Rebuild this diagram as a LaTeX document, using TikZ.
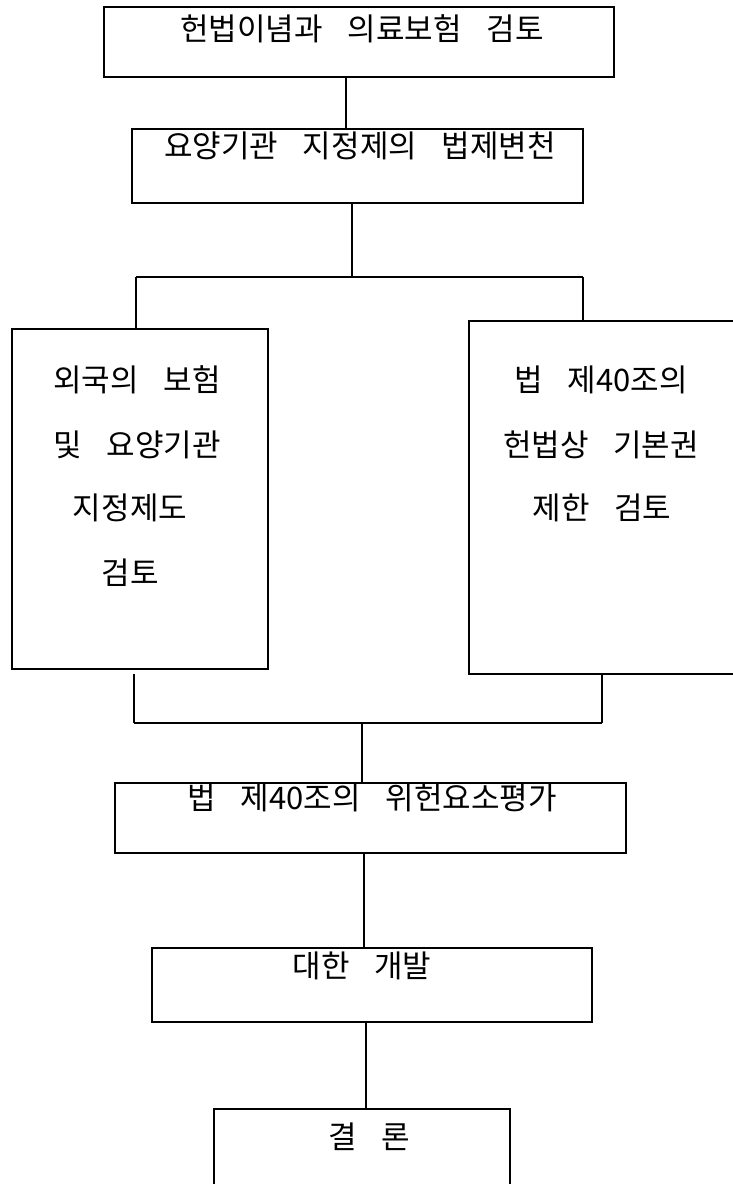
\documentclass[tikz,border=0pt]{standalone}
\usepackage{fontspec}
\setmainfont{Noto Sans CJK KR}
\newcommand\gp{\hspace{0.8em}}
\begin{document}
\begin{tikzpicture}[x=1pt,y=-1pt,
  box/.style={draw,line width=1.5pt,rectangle,inner sep=0pt},
  lbl/.style={inner sep=0pt,font=\fontsize{31pt}{37pt}\selectfont},
  conn/.style={line width=1.5pt}]
\useasboundingbox (0,0) rectangle (733,1184);
% boxes
\node[box,minimum width=510pt,minimum height=70pt] (b1) at (359,42) {};
\node[box,minimum width=451pt,minimum height=74pt] (b2) at (357.5,166) {};
\node[box,minimum width=256pt,minimum height=340pt] (L) at (140,499) {};
\node[box,minimum width=271pt,minimum height=353pt] (R) at (604.5,497.5) {};
\node[box,minimum width=511pt,minimum height=70pt] (b4) at (370.5,818) {};
\node[box,minimum width=440pt,minimum height=74pt] (b5) at (372,985) {};
\node[box,minimum width=296pt,minimum height=90pt] (b6) at (362,1154) {};
% texts
\node[lbl] (t1) at (362,29) {헌법이념과\gp 의료보험\gp 검토};
\node[lbl] (t2) at (360,146) {요양기관\gp 지정제의\gp 법제변천};
\node[lbl] (tl1) at (137,380) {외국의\gp 보험};
\node[lbl] (tl2) at (137,445) {및\gp 요양기관};
\node[lbl] (tl3) at (130,508) {지정제도};
\node[lbl] (tl4) at (130,573) {검토};
\node[lbl] (tr1) at (601,380) {법\gp 제40조의};
\node[lbl] (tr2) at (601,445) {헌법상\gp 기본권};
\node[lbl] (tr3) at (602,508) {제한\gp 검토};
\node[lbl] (t4) at (372,798) {법\gp 제40조의\gp 위헌요소평가};
\node[lbl] (t5) at (362,966) {대한\gp 개발};
\node[lbl] (t6) at (369,1137) {결\gp 론};
% junction coordinates
\coordinate (k1) at (346,0);
\coordinate (j1) at (352,277);
\coordinate (jl) at (136,277);
\coordinate (jr) at (583,277);
\coordinate (ml) at (134,723);
\coordinate (mr) at (602,723);
\coordinate (m) at (362,723);
\coordinate (k4) at (364,0);
\coordinate (k5) at (366,0);
% connectors
\draw[conn] (b1.south -| k1) -- (b2.north -| k1);
\draw[conn] (b2.south -| j1) -- (j1);
\draw[conn] (jl) -- (jr);
\draw[conn] (jl) -- (L.north -| jl);
\draw[conn] (jr) -- (R.north -| jr);
\draw[conn] ([yshift=-4pt]L.south -| ml) -- (ml);
\draw[conn] (R.south -| mr) -- (mr);
\draw[conn] (ml) -- (mr);
\draw[conn] (m) -- (b4.north -| m);
\draw[conn] (b4.south -| k4) -- (b5.north -| k4);
\draw[conn] (b5.south -| k5) -- (b6.north -| k5);
\end{tikzpicture}
\end{document}
